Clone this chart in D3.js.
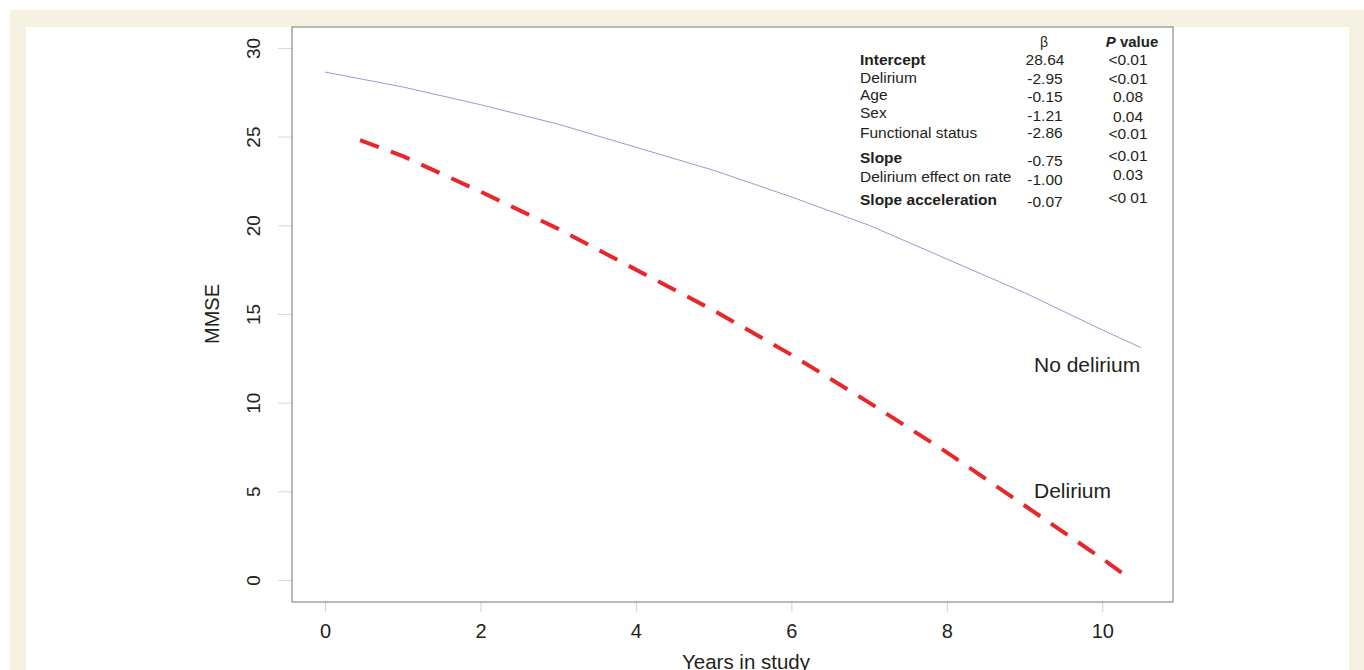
<!DOCTYPE html>
<html>
<head>
<meta charset="utf-8">
<script src="https://cdn.jsdelivr.net/npm/d3@7"></script>
<style>
  body { margin: 0; background: #fff; }
  svg text { font-family: "Liberation Sans", Arial, sans-serif; fill: #231f20; }
</style>
</head>
<body>
<script>
// values
var yearsNoDel = [0, 1, 2, 3, 4, 5, 6, 7, 8, 9, 10, 10.5]
var mmseNoDel = [28.64, 27.8, 26.8, 25.7, 24.4, 23.1, 21.6, 20.0, 18.1, 16.2, 14.1, 13.1]
var yearsDel = [0.45, 1, 2, 3, 4, 5, 6, 7, 8, 9, 10, 10.3]
var mmseDel = [24.8, 23.9, 21.9, 19.8, 17.5, 15.2, 12.7, 10.0, 7.2, 4.2, 1.2, 0.25]

var xTicks = [0, 2, 4, 6, 8, 10]
var yTicks = [0, 5, 10, 15, 20, 25, 30]

var rowLabels = ["Intercept", "Delirium", "Age", "Sex", "Functional status", "Slope", "Delirium effect on rate", "Slope acceleration"]
var betas = ["28.64", "-2.95", "-0.15", "-1.21", "-2.86", "-0.75", "-1.00", "-0.07"]
var pvals = ["<0.01", "<0.01", "0.08", "0.04", "<0.01", "<0.01", "0.03", "<0 01"]
var boldRows = ["Intercept", "Slope", "Slope acceleration"]

window.onload = function() {
    var W = 1364, H = 670
    var svg = d3.select("body").append("svg")
                .attr("width", W).attr("height", H)

    // beige frame
    svg.append("rect").attr("x", 10).attr("y", 10).attr("width", W - 10).attr("height", H - 10)
       .attr("fill", "#f5f1e3")
    svg.append("rect").attr("x", 26).attr("y", 27).attr("width", 1323).attr("height", H - 27)
       .attr("fill", "#fff")

    var box = {left: 292, top: 27, right: 1173, bottom: 602}

    var x = d3.scaleLinear().domain([-0.425, 10.91]).range([box.left, box.right])
    var y = d3.scaleLinear().domain([-1.24, 31.18]).range([box.bottom, box.top])

    // ticks (light grey, outside the box)
    var xAxis = d3.axisBottom(x).tickValues(xTicks).tickSize(10).tickPadding(12)
    var gx = svg.append("g").attr("transform", "translate(0," + box.bottom + ")").call(xAxis)
    gx.select(".domain").remove()
    gx.selectAll("line").attr("stroke", "#d0d0d0")
    gx.selectAll("text").attr("font-size", 20).style("fill", "#231f20")

    var yAxis = d3.axisLeft(y).tickValues(yTicks).tickSize(14).tickPadding(0)
    var gy = svg.append("g").attr("transform", "translate(" + box.left + ",0)").call(yAxis)
    gy.select(".domain").remove()
    gy.selectAll("line").attr("stroke", "#d8d8d8")
    gy.selectAll("text")
      .attr("font-size", 19).style("fill", "#231f20")
      .attr("text-anchor", "middle")
      .attr("x", 0).attr("y", 0).attr("dy", "0.35em")
      .attr("transform", "translate(-39,0) rotate(-90)")

    // plot box
    svg.append("rect").attr("x", box.left).attr("y", box.top)
       .attr("width", box.right - box.left).attr("height", box.bottom - box.top)
       .attr("fill", "none").attr("stroke", "#8c8c8c").attr("stroke-width", 1.2)

    // axis titles
    svg.append("text").attr("x", 746).attr("y", 669)
       .attr("text-anchor", "middle").attr("font-size", 20.5).text("Years in study")
    svg.append("text").attr("transform", "translate(219,314) rotate(-90)")
       .attr("text-anchor", "middle").attr("font-size", 20).text("MMSE")

    var line = d3.line().x(function(d) { return x(d[0]) }).y(function(d) { return y(d[1]) })

    svg.append("path").datum(d3.zip(yearsNoDel, mmseNoDel))
       .attr("d", line).attr("fill", "none")
       .attr("stroke", "#9a9ad2").attr("stroke-width", 1)

    svg.append("path").datum(d3.zip(yearsDel, mmseDel))
       .attr("d", line).attr("fill", "none")
       .attr("stroke", "#e8262c").attr("stroke-width", 4)
       .attr("stroke-dasharray", "20,13")

    svg.append("text").attr("x", 1034).attr("y", 372).attr("font-size", 21).text("No delirium")
    svg.append("text").attr("x", 1034).attr("y", 498).attr("font-size", 21).text("Delirium")

    // coefficient table
    var rowY = [65, 83, 100, 118, 138, 163, 182, 205]
    var betaY = [65, 84, 102, 121, 138, 166, 185, 207]
    var pY = [65, 84, 102, 122, 139, 161, 180, 203]
    var t = svg.append("g").attr("font-size", 15.5)
    t.append("text").attr("x", 1044).attr("y", 47).attr("text-anchor", "middle")
     .attr("font-family", "'DejaVu Serif', serif").attr("font-size", 14).text("β")
    var ph = t.append("text").attr("x", 1132).attr("y", 47).attr("text-anchor", "middle")
              .attr("font-weight", "bold").attr("font-size", 15)
    ph.append("tspan").attr("font-style", "italic").text("P")
    ph.append("tspan").text(" value")

    rowLabels.forEach(function(lab, i) {
        t.append("text").attr("x", 860).attr("y", rowY[i])
         .attr("font-weight", boldRows.indexOf(lab) >= 0 ? "bold" : "normal")
         .text(lab)
        t.append("text").attr("x", 1045).attr("y", betaY[i]).attr("text-anchor", "middle").text(betas[i])
        t.append("text").attr("x", 1128).attr("y", pY[i]).attr("text-anchor", "middle")
         .attr("font-family", pvals[i] == "0.08" ? "'Liberation Serif', serif" : null)
         .text(pvals[i])
    })
}
</script>
</body>
</html>
